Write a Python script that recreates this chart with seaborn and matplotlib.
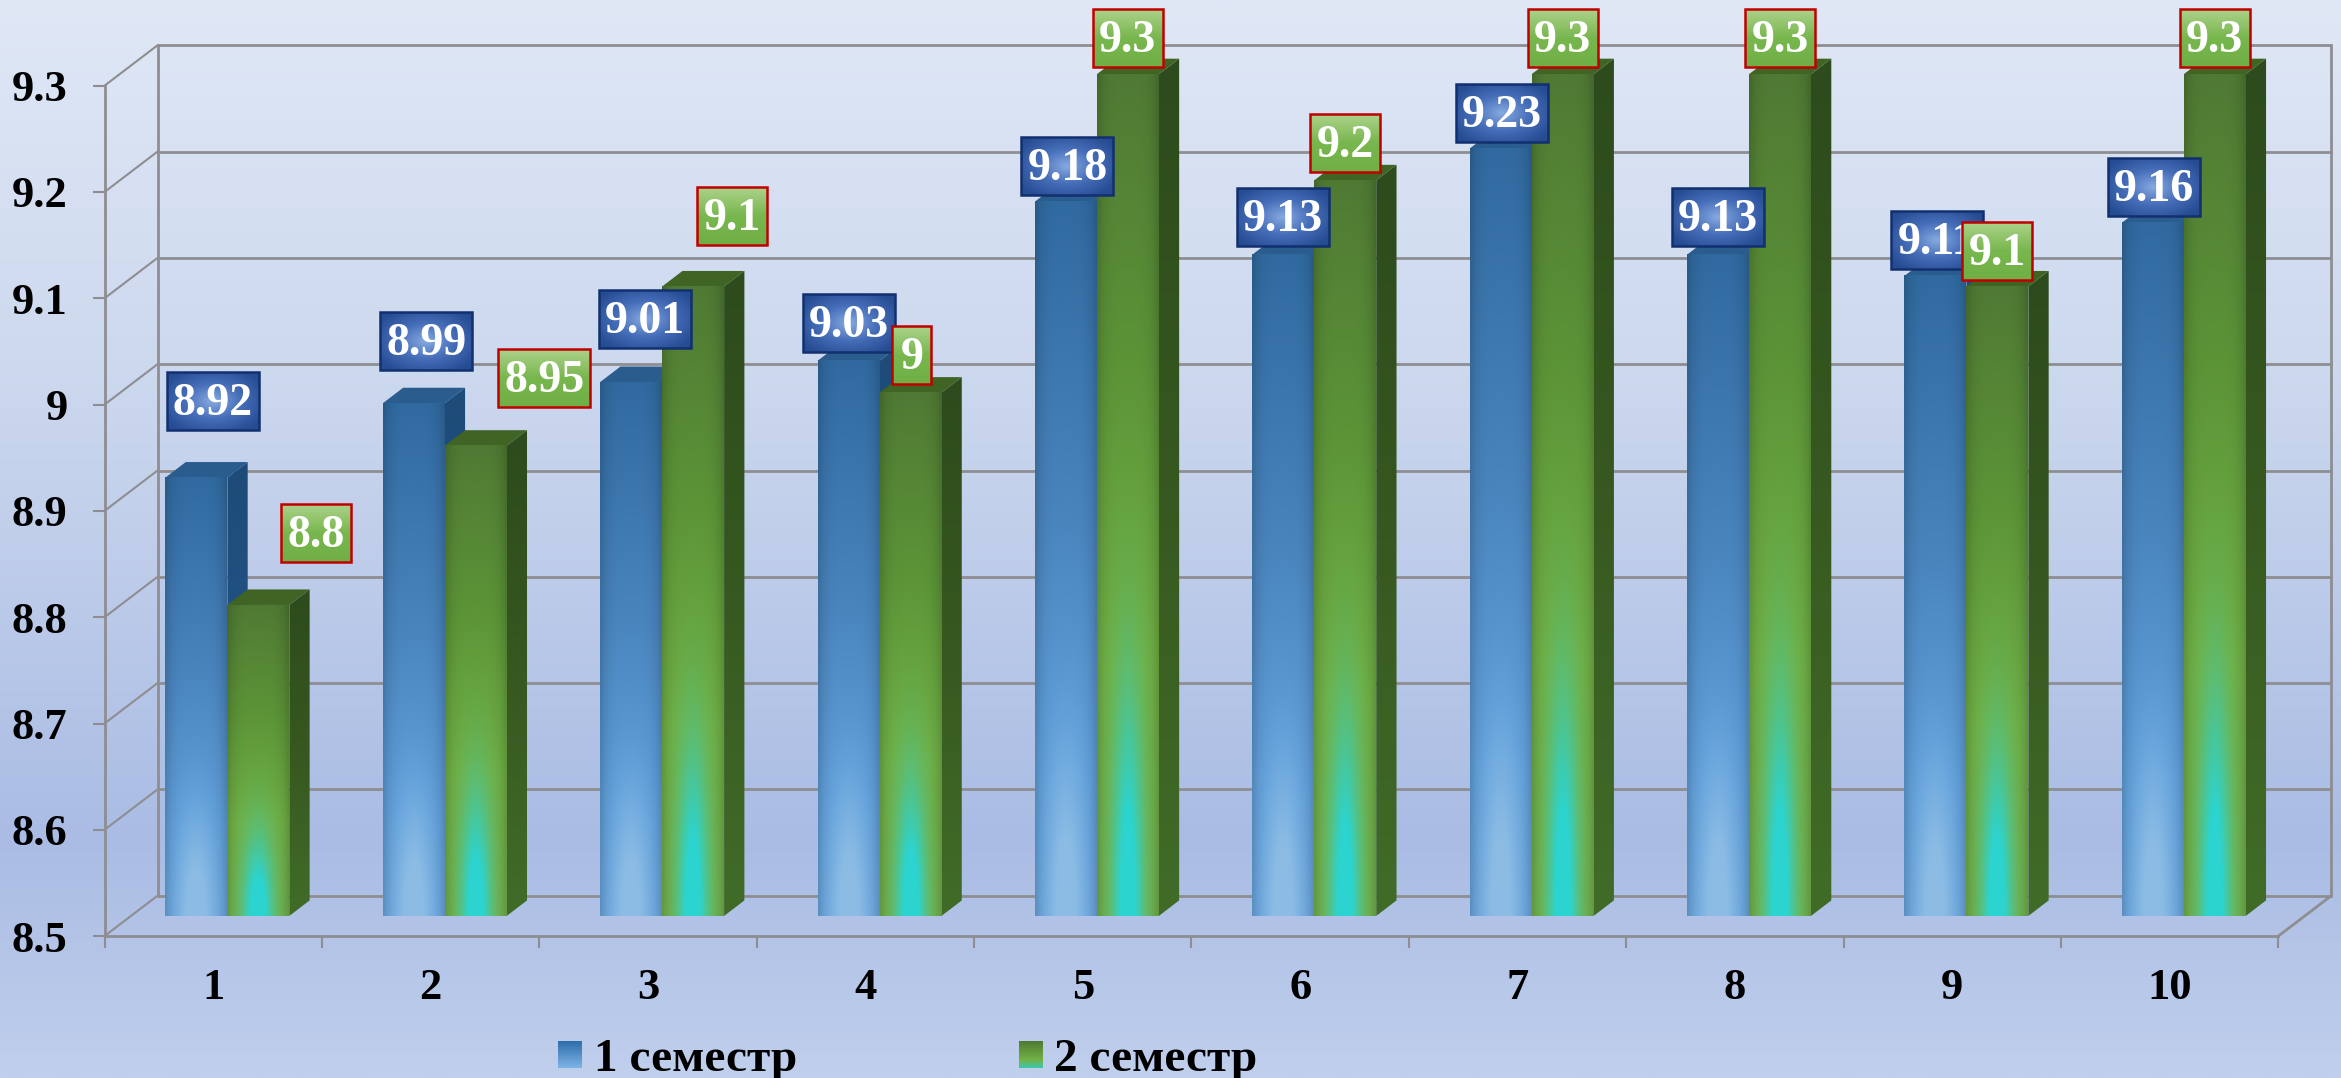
import numpy as np
import pandas as pd
import matplotlib
matplotlib.use("Agg")
import matplotlib.pyplot as plt
from matplotlib.patches import Polygon, Rectangle, Patch
import seaborn as sns

categories = ["1", "2", "3", "4", "5", "6", "7", "8", "9", "10"]
sem1 = [8.92, 8.99, 9.01, 9.03, 9.18, 9.13, 9.23, 9.13, 9.11, 9.16]
sem2 = [8.8, 8.95, 9.1, 9.0, 9.3, 9.2, 9.3, 9.3, 9.1, 9.3]
sem1_text = ["8.92", "8.99", "9.01", "9.03", "9.18", "9.13", "9.23", "9.13", "9.11", "9.16"]
sem2_text = ["8.8", "8.95", "9.1", "9", "9.3", "9.2", "9.3", "9.3", "9.1", "9.3"]
series_names = ["1 семестр", "2 семестр"]
ytick_values = [8.5, 8.6, 8.7, 8.8, 8.9, 9.0, 9.1, 9.2, 9.3]
ytick_labels = ["8.5", "8.6", "8.7", "8.8", "8.9", "9", "9.1", "9.2", "9.3"]

# label offsets from the bar top, in reference (1568 wide) pixels
sem1_dx = [11, 8.4, 9, 0, 1, 0, 1, 0, 1, 1]
sem1_dy = [51, 42, 42, 25, 24, 25, 23.5, 25, 24, 24]
sem2_dx = [38.5, 46, 26, 1, 0, 0, 0, 0, 0, 0]
sem2_dy = [48, 45.5, 47, 25, 24, 25, 24, 24, 24, 24]

W, H = 2341, 1078
S = W / 1568.0
sns.set_theme(style="white")
plt.rcParams["font.family"] = ["Liberation Serif", "DejaVu Serif"]
plt.rcParams["font.weight"] = "bold"
FS = 32
LABEL_FS = 33
LEG_FS = 34
GRAY = "#8e8e92"

fig = plt.figure(figsize=(W / 100, H / 100), dpi=100)


def rect_from_ref(x0, x1, ytop, ybot):
    return [x0 * S / W, 1 - ybot * S / H, (x1 - x0) * S / W, (ybot - ytop) * S / H]


def lerp_colors(t, stops):
    ts = [s[0] for s in stops]
    return np.stack([np.interp(t, ts, [s[1][k] for s in stops]) for k in range(3)], axis=-1) / 255.0


# background
bg = fig.add_axes([0, 0, 1, 1], zorder=0)
bg.axis("off")
yy = np.linspace(0, 1, 400)[:, None]
bg_img = lerp_colors(yy, [(0, (224, 232, 246)), (0.35, (204, 216, 238)), (0.78, (170, 188, 228)), (1, (192, 207, 236))])
bg.imshow(bg_img, extent=(0, 1, 0, 1), aspect="auto")

# front plane: axis, ticks, walls
ax = fig.add_axes(rect_from_ref(70, 1526, 57.4, 627), zorder=1)
ax.patch.set_alpha(0)
ax.set_xlim(-0.5, 9.5)
ax.set_ylim(8.5, 9.3)
for s in ["top", "right"]:
    ax.spines[s].set_visible(False)
for s in ["left", "bottom"]:
    ax.spines[s].set_color(GRAY)
    ax.spines[s].set_linewidth(2.0)
ax.set_yticks(ytick_values)
ax.set_yticklabels(ytick_labels, fontsize=FS, fontweight="bold", color="black")
ax.tick_params(axis="y", length=8.6, width=1.5, color=GRAY, pad=18, left=True)
ax.set_xticks(range(10))
ax.set_xticklabels(categories, fontsize=FS, fontweight="bold", color="black")
ax.tick_params(axis="x", which="major", length=0, pad=23)
ax.set_xticks(np.arange(-0.5, 10, 1), minor=True)
ax.tick_params(axis="x", which="minor", length=8.6, width=1.5, color=GRAY, bottom=True)
ax.grid(False)

wall_dx = 35.5 / 145.6
wall_dy = 27 / 711.0
line_kw = dict(color=GRAY, lw=2.0, clip_on=False, solid_capstyle="round")
for t in ytick_values:
    ax.plot([-0.5 + wall_dx, 9.5 + wall_dx], [t + wall_dy, t + wall_dy], **line_kw)
    ax.plot([-0.5, -0.5 + wall_dx], [t, t + wall_dy], color=GRAY, lw=1.5, clip_on=False)
for xs in [-0.5 + wall_dx, 9.5 + wall_dx]:
    ax.plot([xs, xs], [8.5 + wall_dy, 9.3 + wall_dy], **line_kw)
ax.plot([9.5, 9.5 + wall_dx], [8.5, 8.5 + wall_dy], **line_kw)

# bar plane
BAR_TOP_PX, BAR_BOT_PX = 0.0, 613.5
BASE_PX = 618.5
SCALE = 711.0
y_low = 8.5 + (BASE_PX - BAR_BOT_PX) / SCALE
y_high = 8.5 + (BASE_PX - BAR_TOP_PX) / SCALE
bx = fig.add_axes(rect_from_ref(79.5, 1535.5, BAR_TOP_PX, BAR_BOT_PX), zorder=2)
bx.patch.set_alpha(0)
df = pd.DataFrame({
    "cat": categories * 2,
    "value": sem1 + sem2,
    "sem": [series_names[0]] * 10 + [series_names[1]] * 10,
})
sns.barplot(data=df, x="cat", y="value", hue="sem", order=categories, hue_order=series_names,
            palette=["#4f8fcb", "#6aa83e"], saturation=1, width=0.57, gap=0, legend=False, ax=bx)
bx.set_xlim(-0.5, 9.5)
bx.set_ylim(y_low, y_high)
bx.axis("off")

dep_x = 13.6 / 145.6
dep_y = 10.4 / SCALE


def front_image(kind, n=160, m=40):
    t = np.linspace(0, 1, n)[:, None]
    u = np.linspace(0, 1, m)[None, :]
    if kind == 0:
        base = lerp_colors(t, [(0, (48, 106, 160)), (0.45, (74, 133, 190)), (0.8, (96, 160, 220)), (1, (104, 166, 224))])
        spot_col = np.array([140, 188, 228]) / 255.0
        spot_h, spot_w = 0.2, 0.3
    else:
        base = lerp_colors(t, [(0, (80, 122, 52)), (0.35, (92, 148, 55)), (0.7, (114, 178, 70)), (1, (118, 180, 75))])
        spot_col = np.array([44, 212, 208]) / 255.0
        spot_h, spot_w = 0.24, 0.24
    rgb = np.repeat(base[:, None, :].reshape(n, 1, 3), m, axis=1)
    edge = 1 - 0.16 * (np.abs(u - 0.5) * 2) ** 4
    rgb = rgb * edge[..., None]
    a = np.exp(-(((1 - t) / spot_h) ** 2)) * np.exp(-(((u - 0.5) / spot_w) ** 2))
    a = np.clip(a * 1.3, 0, 1)[..., None]
    return np.clip(rgb * (1 - a) + spot_col * a, 0, 1)


def shade_image(stops):
    return lerp_colors(np.linspace(0, 1, 60)[:, None, None].repeat(2, axis=1)[:, :, 0], stops)


side_stops = [
    [(0, (30, 75, 120)), (1, (40, 95, 150))],
    [(0, (45, 75, 28)), (0.5, (55, 88, 32)), (1, (65, 108, 40))],
]
top_color = ["#2a5c8e", "#3f6423"]
patches = list(bx.patches)
values = sem1 + sem2
for k, (p, v) in enumerate(zip(patches, values)):
    kind = 0 if k < 10 else 1
    z = 2 + kind
    x0, w = p.get_x(), p.get_width()
    x1 = x0 + w
    p.set_facecolor("none")
    p.set_edgecolor("none")
    side = Polygon([(x1, y_low), (x1 + dep_x, y_low + dep_y), (x1 + dep_x, v + dep_y), (x1, v)],
                   closed=True, fc="none", ec="none", transform=bx.transData, zorder=z)
    bx.add_patch(side)
    im = bx.imshow(shade_image(side_stops[kind]), extent=(x1, x1 + dep_x, y_low, v + dep_y),
                   aspect="auto", zorder=z, interpolation="bilinear")
    im.set_clip_path(side)
    bx.add_patch(Polygon([(x0, v), (x0 + dep_x, v + dep_y), (x1 + dep_x, v + dep_y), (x1, v)],
                         closed=True, fc=top_color[kind], ec="none", zorder=z))
    bx.imshow(front_image(kind), extent=(x0, x1, y_low, v), aspect="auto", zorder=z + 0.1,
              interpolation="bilinear")
bx.set_xlim(-0.5, 9.5)
bx.set_ylim(y_low, y_high)

# overlay in pixels for labels
ov = fig.add_axes([0, 0, 1, 1], zorder=3)
ov.set_xlim(0, W)
ov.set_ylim(H, 0)
ov.axis("off")

fig.canvas.draw()


def box_image(kind):
    n = 60
    yy_, xx_ = np.mgrid[0:1:n * 1j, 0:1:n * 1j]
    if kind == 0:
        r = np.clip(np.sqrt(((xx_ - 0.5) / 0.62) ** 2 + ((yy_ - 0.5) / 0.62) ** 2), 0, 1)
        return lerp_colors(r, [(0, (135, 170, 225)), (0.5, (70, 110, 185)), (1, (38, 76, 146))])
    return lerp_colors(yy_, [(0, (172, 210, 138)), (0.5, (120, 182, 78)), (1, (112, 174, 70))])


def draw_label(center_x, value, text, dx, dy, kind, z):
    px = bx.transData.transform((center_x, value))
    cx = px[0] + dx * S
    cy = H - px[1] - dy * S
    bw = {1: 39, 3: 70, 4: 92}[len(text)]
    bh = 58
    ext = (cx - bw / 2, cx + bw / 2, cy + bh / 2, cy - bh / 2)
    ov.imshow(box_image(kind), extent=ext, aspect="auto", zorder=z, interpolation="bilinear")
    ov.add_patch(Rectangle((cx - bw / 2, cy - bh / 2), bw, bh, fc="none",
                           ec="#12306f" if kind == 0 else "#c00000", lw=1.8, zorder=z + 0.1))
    ov.text(cx, cy + 3, text, color="white", fontsize=LABEL_FS, fontweight="bold", ha="center", va="center",
            zorder=z + 0.2)


for i in range(10):
    p = patches[i]
    draw_label(p.get_x() + p.get_width() / 2, sem1[i], sem1_text[i], sem1_dx[i], sem1_dy[i], 0, 5 + i * 0.01)
for i in range(10):
    p = patches[10 + i]
    draw_label(p.get_x() + p.get_width() / 2, sem2[i], sem2_text[i], sem2_dx[i], sem2_dy[i], 1, 6 + i * 0.01)

# legend
handles = [Patch(fc="#5b9bd5", ec="none"), Patch(fc="#6aa83e", ec="none")]
leg = ov.legend(handles, series_names, loc="center", bbox_to_anchor=(608 / 1568, 1 - 710 / 722),
                bbox_transform=fig.transFigure, ncol=2, frameon=False, fontsize=LEG_FS,
                handlelength=0.5, handleheight=0.5, handletextpad=0.25, columnspacing=4.7,
                borderpad=0, labelcolor="black")
for t in leg.get_texts():
    t.set_fontweight("bold")
fig.canvas.draw()
for h, stops in zip(leg.legend_handles, [
    [(0, (46, 110, 170)), (1, (125, 180, 230))],
    [(0, (78, 123, 50)), (0.7, (115, 178, 70)), (1, (60, 200, 170))],
]):
    e = h.get_window_extent()
    img = lerp_colors(np.linspace(0, 1, 40)[:, None], stops)
    ov.imshow(img, extent=(e.x0, e.x1, H - e.y0, H - e.y1), aspect="auto", zorder=8)
ov.set_xlim(0, W)
ov.set_ylim(H, 0)

fig.savefig("out.png", dpi=100)
